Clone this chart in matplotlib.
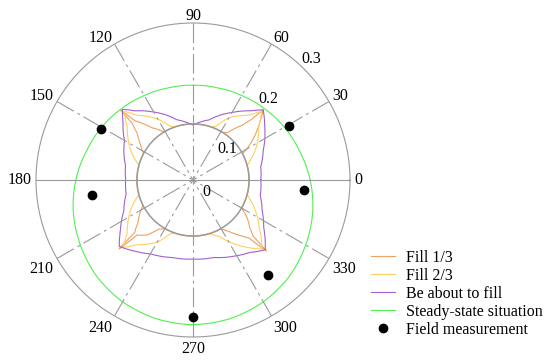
import numpy as np
import matplotlib
matplotlib.use('Agg')
import matplotlib.pyplot as plt

plt.rcParams['font.family'] = ['Liberation Serif', 'DejaVu Serif']
plt.rcParams['font.size'] = 11.5
plt.rcParams['lines.scale_dashes'] = False

# angles in degrees, radius values
fill13_deg = [0, 28, 30, 35, 41, 45, 46, 48, 54, 58, 90,
              120, 122, 128, 134.5, 136, 137, 140, 146, 152, 180,
              207, 210, 218, 222, 223, 224.5, 230, 235, 240, 270,
              300, 305, 311, 314, 316, 317, 320, 325, 330, 360]
fill13_r = [0.100, 0.100, 0.111, 0.133, 0.158, 0.177, 0.150, 0.132, 0.104, 0.100, 0.100,
            0.100, 0.102, 0.118, 0.148, 0.179, 0.148, 0.130, 0.113, 0.100, 0.100,
            0.100, 0.107, 0.125, 0.140, 0.180, 0.140, 0.128, 0.107, 0.100, 0.100,
            0.100, 0.112, 0.132, 0.144, 0.182, 0.146, 0.132, 0.118, 0.100, 0.100]

fill23_deg = [0, 15, 17, 26, 39, 45, 49, 60, 67, 72, 90,
              108, 113, 121, 131, 135, 141, 154, 163, 165, 180,
              195, 197, 206, 219, 224, 229, 240, 247, 252, 270,
              287, 295, 305, 315, 324, 340, 345, 360]
fill23_r = [0.100, 0.100, 0.104, 0.124, 0.151, 0.173, 0.153, 0.128, 0.104, 0.100, 0.100,
            0.100, 0.104, 0.128, 0.153, 0.173, 0.151, 0.124, 0.104, 0.100, 0.100,
            0.100, 0.104, 0.124, 0.151, 0.173, 0.153, 0.128, 0.104, 0.100, 0.100,
            0.100, 0.111, 0.142, 0.174, 0.146, 0.110, 0.100, 0.100]

full_deg = [0, 11, 23, 37, 45, 50, 60, 75, 90, 105, 120, 130, 135, 140, 150, 168, 180,
            192, 204, 215, 222, 230, 240, 255, 270, 285, 298, 308, 316, 326, 336, 347, 360]
full_r = [0.121, 0.123, 0.136, 0.160, 0.177, 0.161, 0.139, 0.111, 0.098, 0.111, 0.140,
          0.161, 0.178, 0.163, 0.141, 0.123, 0.120, 0.122, 0.135, 0.158, 0.177, 0.165,
          0.152, 0.143, 0.141, 0.143, 0.154, 0.164, 0.179, 0.152, 0.135, 0.123, 0.121]

steady_deg = list(range(0, 361, 15))
steady_r = [0.209, 0.197, 0.188, 0.180, 0.174, 0.170, 0.169, 0.170, 0.174, 0.180, 0.188,
            0.197, 0.209, 0.221, 0.232, 0.243, 0.251, 0.256, 0.258, 0.256, 0.251, 0.243,
            0.232, 0.221, 0.209]

field_deg = [29.6, 354.8, 150.8, 188.4, 308.4, 270]
field_r = [0.196, 0.198, 0.187, 0.182, 0.216, 0.244]

theta_ticks = list(range(0, 360, 30))
r_labels = ['0', '0.1', '0.2', '0.3']
r_label_pos = [(-43, 0.032), (42, 0.082), (47, 0.198), (45.7, 0.302)]

r_max = 0.28
grid_col = '#9a9a9a'
rad = np.deg2rad

fig = plt.figure(figsize=(5.5, 3.61), dpi=100)
ax = fig.add_axes([36 / 550, 24 / 361, 314 / 550, 314 / 361], projection='polar')
ax.set_rlim(0, r_max)
ax.set_yticks([])
ax.set_xticks(rad(np.array(theta_ticks)))
ax.set_xticklabels([])
ax.grid(False)
ax.spines['polar'].set_color(grid_col)
ax.spines['polar'].set_linewidth(0.8)


def curve(deg, r, **kw):
    ln, = ax.plot(rad(np.array(deg)), r, **kw)
    ln.get_path()._interpolation_steps = 40  # draw as arcs in polar space
    return ln


h1 = curve(fill13_deg, fill13_r, color='#f0a060', lw=0.8, label='Fill 1/3', zorder=2)
h2 = curve(fill23_deg, fill23_r, color='#ffd060', lw=0.8, label='Fill 2/3', zorder=2)
h3 = curve(full_deg, full_r, color='#a060d0', lw=0.8, label='Be about to fill', zorder=2)
h4 = curve(steady_deg, steady_r, color='#50f050', lw=0.8, label='Steady-state situation', zorder=2)
h5, = ax.plot(rad(np.array(field_deg)), field_r, 'o', color='black', ms=6, ls='none',
              label='Field measurement', zorder=4)

# grid drawn on top of the curves
circ = np.linspace(0, 2 * np.pi, 361)
ax.plot(circ, np.full_like(circ, 0.1), color=grid_col, lw=1.1, zorder=3)
for t in theta_ticks:
    if t in (0, 180):
        ax.plot([rad(t), rad(t)], [r_max, 0], color=grid_col, lw=0.8, zorder=3)
    else:
        ax.plot([rad(t), rad(t)], [r_max, 0], color=grid_col, lw=0.8, zorder=3,
                ls=(0, (14, 3, 2, 3)))

# angle labels just outside the rim
for t in theta_ticks:
    c, s = np.cos(rad(t)), np.sin(rad(t))
    ha = 'left' if c > 0.1 else ('right' if c < -0.1 else 'center')
    va = 'baseline' if s > 0.1 else ('top' if s < -0.1 else 'center')
    dy = 2 * s if s > 0.1 else 3 * s
    ax.annotate(str(t), xy=(rad(t), r_max), xytext=(3 * c, dy), textcoords='offset points',
                ha=ha, va=va, annotation_clip=False)

for lab, (a, r) in zip(r_labels, r_label_pos):
    ax.text(rad(a), r, lab, ha='center', va='center', clip_on=False, zorder=5)

fig.legend(handles=[h1, h2, h3, h4, h5], loc='upper left',
           bbox_to_anchor=(371 / 550, 1 - 250 / 361), frameon=False,
           borderpad=0, borderaxespad=0, handlelength=1.5, handletextpad=0.7,
           labelspacing=0.12, fontsize=11.5)

fig.savefig('out.png', dpi=100)
